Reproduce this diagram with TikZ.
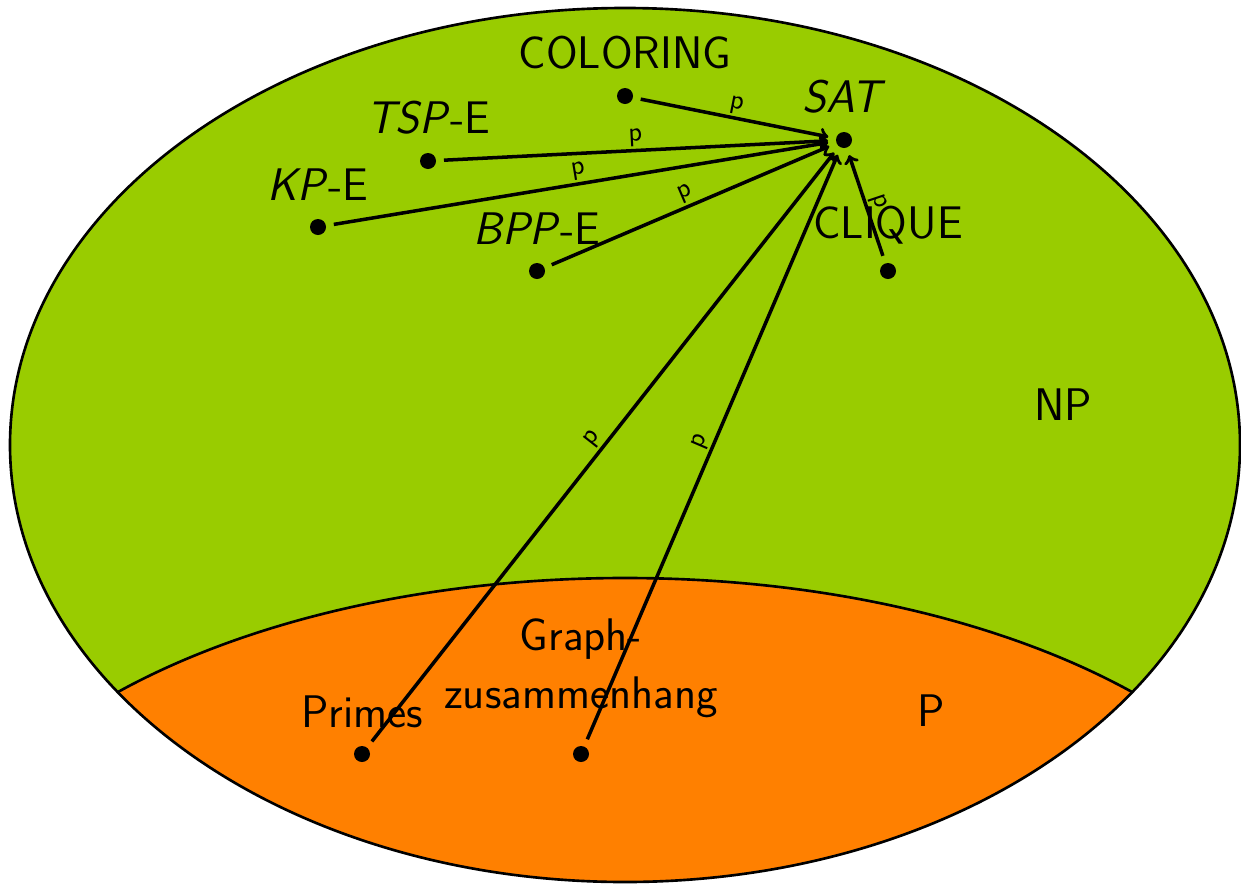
\documentclass[tikz,border=0pt]{standalone}
\usepackage{tikz}
\usetikzlibrary{calc}
\renewcommand{\familydefault}{\sfdefault}

\definecolor{npgreen}{RGB}{153,204,0}
\definecolor{porange}{RGB}{255,128,0}

\tikzset{
	problem/.style={circle, fill=black, inner sep=0pt, minimum size=0.32cm, outer sep=0.16cm},
	probname/.style={font=\fontsize{26}{30}\selectfont, inner sep=0.1cm, label distance=0.1cm},
	reduction/.style={->, line width=2pt},
	redlabel/.style={midway, above, sloped, inner sep=1pt, font=\fontsize{16}{18}\selectfont}
}

\begin{document}
\begin{tikzpicture}
		%%%%% START %%%%%
		\useasboundingbox (0, 0) rectangle (24.82, -17.66);
		
		% NP und P
		\fill[npgreen] (12.5, -8.9) ellipse (12.3 and 8.74);
		\begin{scope}
			\clip (12.5, -8.9) ellipse (12.3 and 8.74);
			\draw[line width=1.5pt, fill=porange] (12.5, -18.9) ellipse (14 and 7.34);
		\end{scope}
		\draw[line width=1.5pt] (12.5, -8.9) ellipse (12.3 and 8.74);
		
		\node[probname] (np) at (21.26, -8.1) {NP};
		\node[probname] (p) at (18.62, -14.22) {P};
		
		% Probleme
		\node[problem, label={[probname]above:COLORING}] (coloring) at (12.5, -1.92) {};
		\node[problem, label={[probname]above:\textit{SAT}}] (sat) at (16.88, -2.8) {};
		\node[problem, label={[probname]above:\textit{TSP}-E}] (tsp) at (8.56, -3.22) {};
		\node[problem, label={[probname]above:\textit{KP}-E}] (kp) at (6.36, -4.54) {};
		\node[problem, label={[probname]above:\textit{BPP}-E}] (bpp) at (10.74, -5.42) {};
		\node[problem, label={[probname]above:CLIQUE}] (clique) at (17.76, -5.42) {};
		\node[problem, label={[probname]above:Primes}] (primes) at (7.24, -15.08) {};
		\node[problem, label={[probname, align=center, label distance=0.3cm]above:Graph-\\[0.1cm]zusammenhang}] (graph) at (11.62, -15.08) {};
		
		% Reduktionen auf SAT
		\draw[reduction] (coloring) -- node[redlabel] {p} (sat);
		\draw[reduction] (tsp) -- node[redlabel] {p} (sat);
		\draw[reduction] (kp) -- node[redlabel] {p} (sat);
		\draw[reduction] (bpp) -- node[redlabel] {p} (sat);
		\draw[reduction] (clique) -- node[redlabel] {p} (sat);
		\draw[reduction] (primes) -- node[redlabel] {p} (sat);
		\draw[reduction] (graph) -- node[redlabel] {p} (sat);
		
		%%%%% END %%%%%
\end{tikzpicture}
\end{document}
